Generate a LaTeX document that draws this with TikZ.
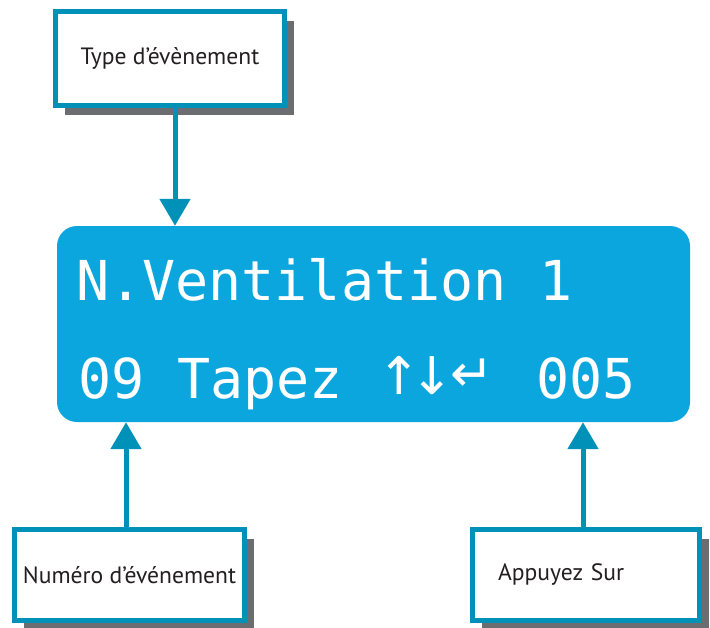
\documentclass[tikz,border=0pt]{standalone}
\usepackage{fontspec}
\setmainfont{PT Sans}
\newfontfamily\lcdfont{DejaVu Sans Mono}
\newfontfamily\arrfont{DejaVu Sans}
\usetikzlibrary{arrows.meta,shadows}
\definecolor{frame}{RGB}{0,145,185}
\definecolor{lcdblue}{RGB}{12,166,222}
\definecolor{shade}{RGB}{108,109,112}
\definecolor{ink}{RGB}{35,31,32}
\newcommand{\arrglyph}[1]{\makebox[28pt][c]{#1}}
\tikzset{
  labelbox/.style={draw=frame, line width=5pt, fill=white, inner sep=0pt,
    font=\fontsize{23.6}{28}\selectfont, text=ink,
    drop shadow={shadow xshift=9pt, shadow yshift=-9pt, fill=shade, opacity=1}},
  pointer/.style={draw=frame, line width=5pt, -{Triangle[width=30pt,length=27pt]}},
  lcdtext/.style={text=white, inner sep=0pt, anchor=base west,
    font=\lcdfont\fontsize{55}{60}\selectfont},
  arrtext/.style={text=white, inner sep=0pt, anchor=base,
    font=\arrfont\fontsize{52}{56}\selectfont},
}
\begin{document}
\begin{tikzpicture}[x=1pt,y=-1pt]
\useasboundingbox (0,0) rectangle (710,627);
% LCD display
\node[fill=lcdblue, rounded corners=20pt, minimum width=633pt, minimum height=196pt, inner sep=0pt] (lcd) at (373.5,324) {};
\node[lcdtext] (l1) at (76,300) {N.Ventilation 1};
\node[lcdtext] (l2a) at (78,398) {09 Tapez};
\node[arrtext] (up) at (399,394) {\arrglyph{↑}};
\node[arrtext] (down) at (432,394) {\arrglyph{↓}};
\node[arrtext] (ret) at (472,391) {\arrglyph{↵}};
\node[lcdtext] (l2c) at (536,398) {005};
% label boxes
\node[labelbox, minimum width=229pt, minimum height=94pt] (type) at (170,58.5) {Type d’évènement};
\node[labelbox, minimum width=230pt, minimum height=91pt] (num) at (129.5,575) {Numéro d’événement};
\node[labelbox, minimum height=91pt, text width=176pt, inner xsep=25.5pt, align=left] (app) at (586,575) {Appuyez Sur};
% pointers
\draw[pointer] ([xshift=5pt]type.south) -- ([xshift=5pt]type.south |- lcd.north);
\draw[pointer] ([xshift=-3.5pt]num.north) -- ([xshift=-3.5pt]num.north |- lcd.south);
\draw[pointer] ([xshift=-3pt]app.north) -- ([xshift=-3pt]app.north |- lcd.south);
\end{tikzpicture}
\end{document}
